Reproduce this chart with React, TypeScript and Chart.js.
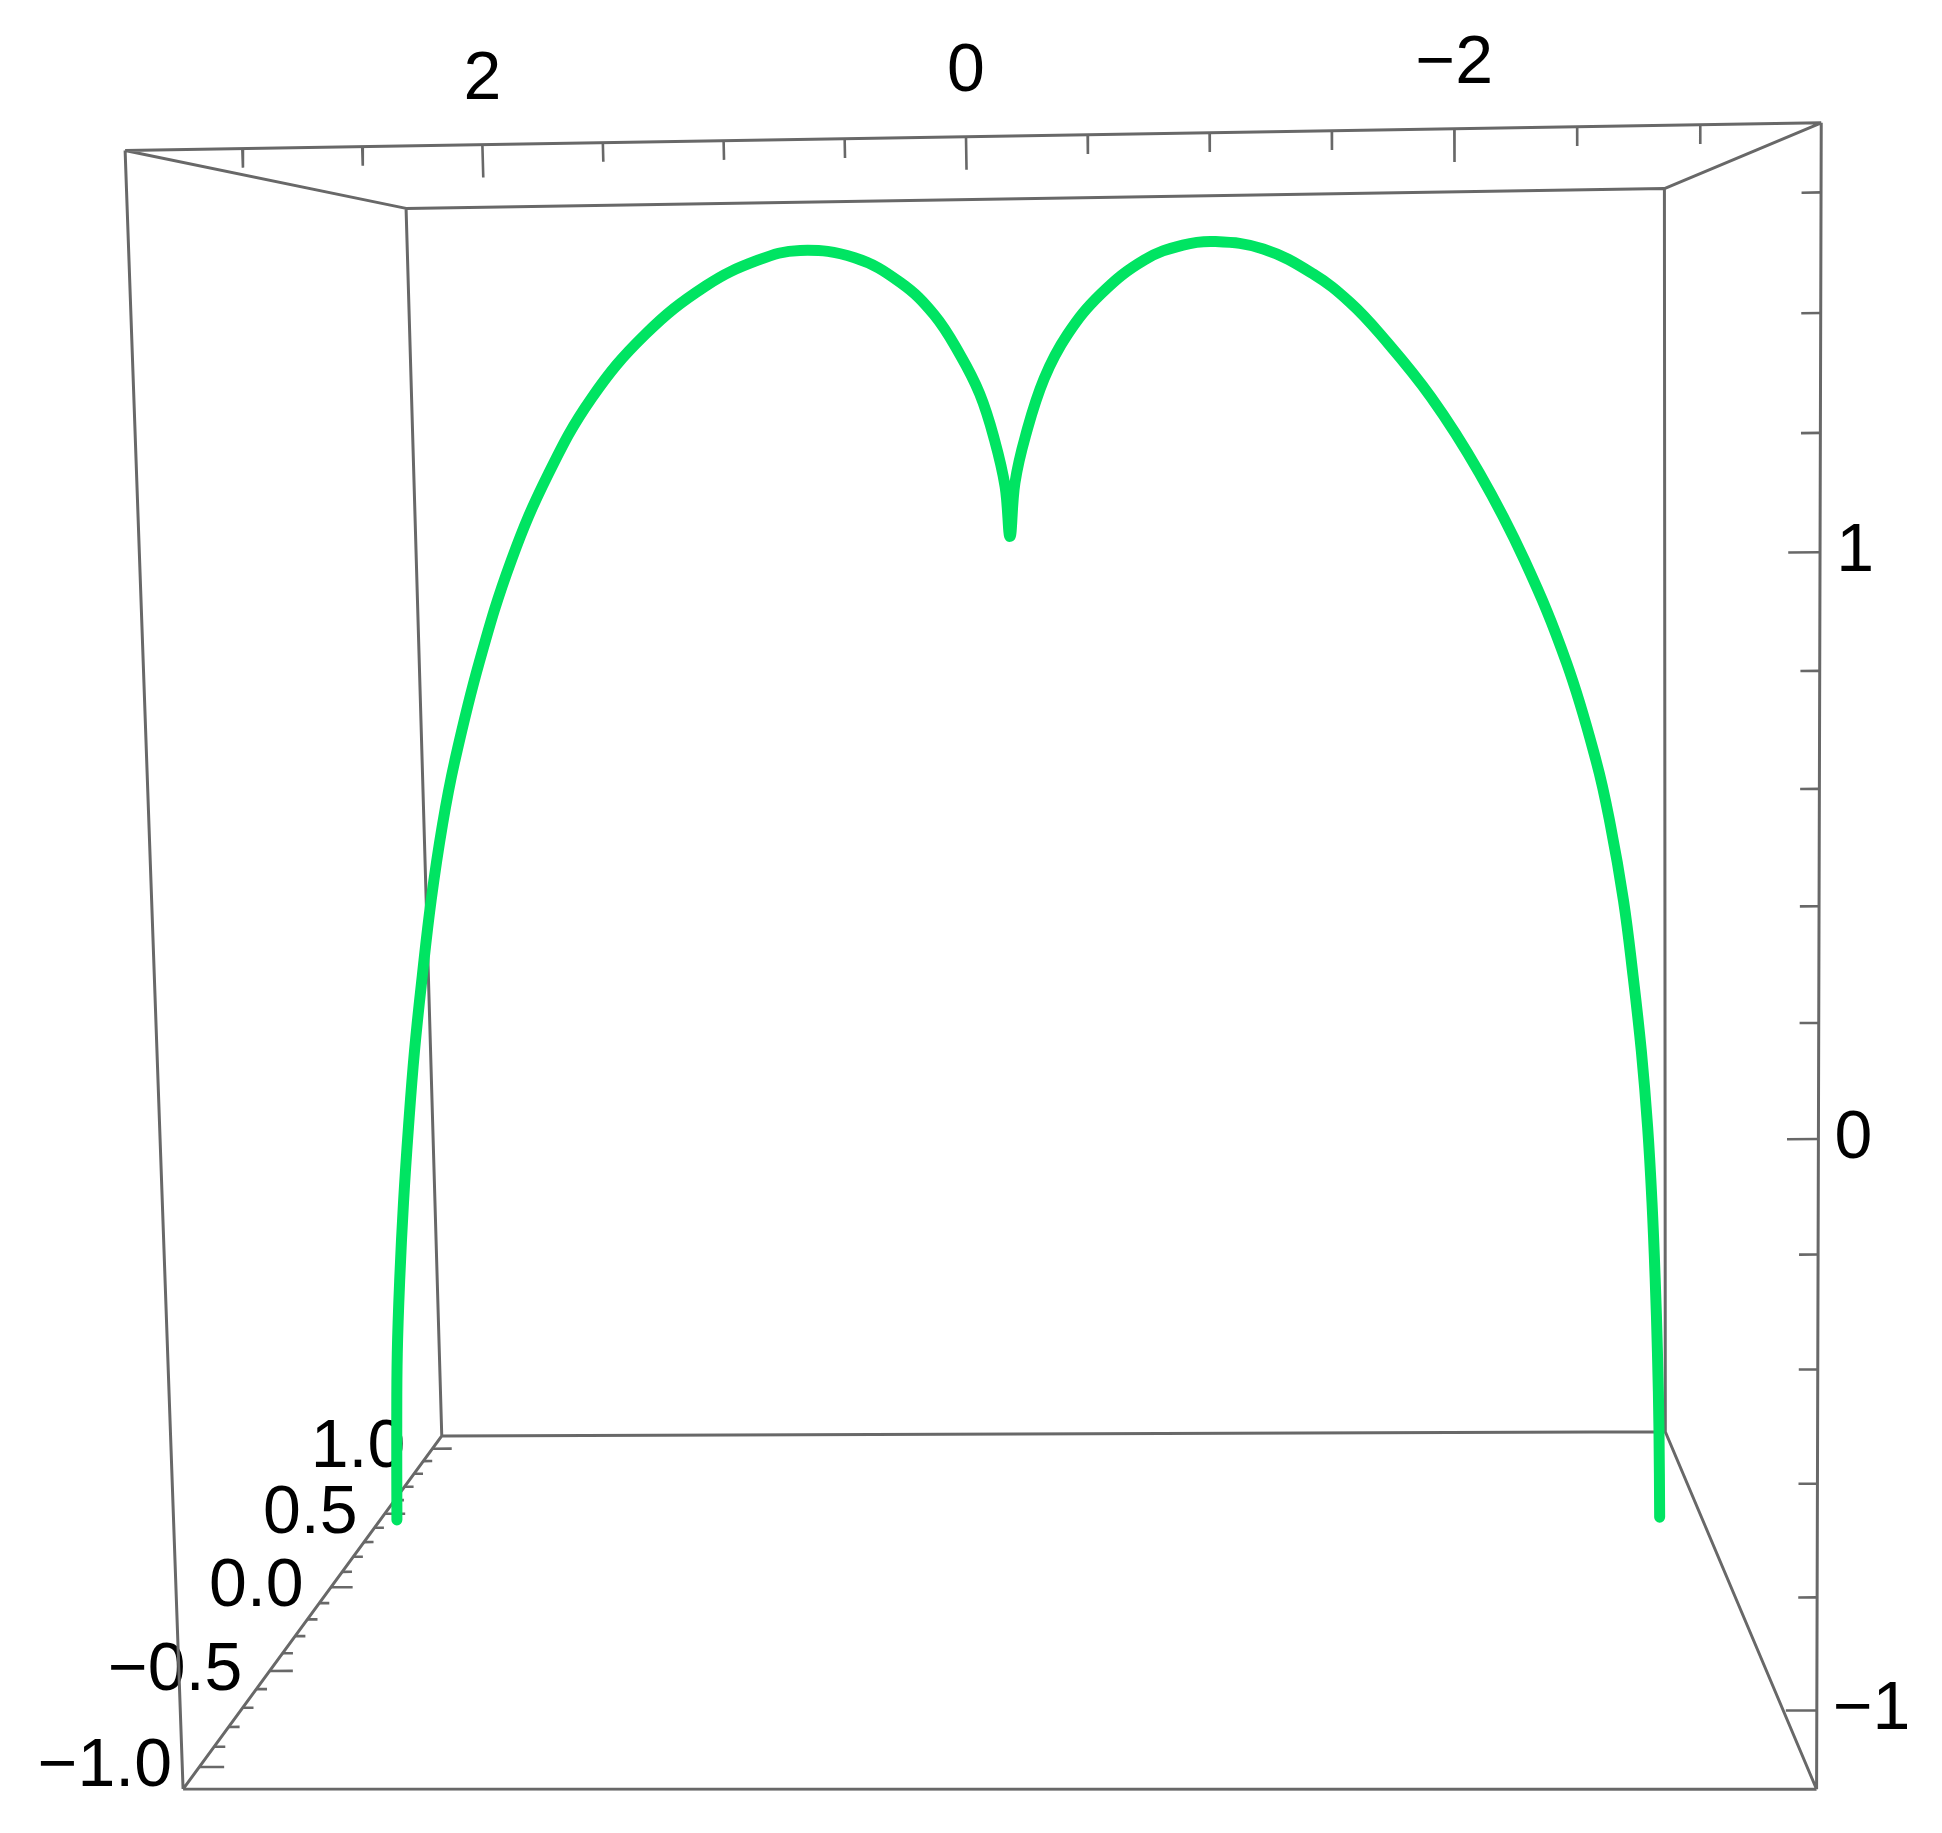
import React, { useEffect, useRef } from "react";
import { Chart, registerables } from "chart.js";

Chart.register(...registerables);

// ---------- canvas / view plane ----------
const CANVAS_W = 1942;
const CANVAS_H = 1833;
const VIEW_W = 1568; // view-plane units used by the chart's x scale
const VIEW_H = 1480; // view-plane units used by the chart's y scale

// ---------- 3D box (plot range) ----------
const X_RANGE = [-3.49, 3.49];
const Y_RANGE = [-1.105, 1.105];
const Z_RANGE = [-1.14, 1.715];

// ---------- axis ticks ----------
const X_TICKS = [-3, -2.5, -2, -1.5, -1, -0.5, 0, 0.5, 1, 1.5, 2, 2.5, 3];
const X_LABELS = [2, 0, -2];
const Y_TICKS = [-1.0, -0.9, -0.8, -0.7, -0.6, -0.5, -0.4, -0.3, -0.2, -0.1, 0.0, 0.1, 0.2, 0.3, 0.4, 0.5, 0.6, 0.7, 0.8, 0.9, 1.0];
const Y_LABELS = [-1.0, -0.5, 0.0, 0.5, 1.0];
const Z_TICKS = [-1.0, -0.8, -0.6, -0.4, -0.2, 0.0, 0.2, 0.4, 0.6, 0.8, 1.0, 1.2, 1.4, 1.6];
const Z_LABELS = [-1, 0, 1];

// ---------- the space curve (x, z, depth y) ----------
const CURVE_X = [
  3.146, 3.133, 3.119, 3.095, 3.065, 3.029, 2.988, 2.938, 2.883, 2.816, 2.747, 2.612, 2.439, 2.245, 2.024, 1.755,
  1.454, 1.198, 0.992,
  0.728, 0.508, 0.348, 0.226, 0.132, 0.064, 0.016, -0.004, -0.032, -0.087, -0.181, -0.298, -0.463, -0.674, -0.861,
  -1.016, -1.248, -1.486, -1.663,
  -1.809, -2.051, -2.281, -2.496, -2.698, -2.841, -2.908, -2.971, -3.017, -3.057, -3.087, -3.108, -3.123, -3.134,
  -3.141, -3.144,
];
const CURVE_Z = [
  -0.999, -0.81, -0.653, -0.496, -0.34, -0.185, -0.03, 0.124, 0.278, 0.431, 0.558, 0.757, 0.962, 1.134, 1.283, 1.407,
  1.501, 1.55, 1.568,
  1.552, 1.502, 1.438, 1.359, 1.28, 1.189, 1.096, 0.997, 1.103, 1.196, 1.308, 1.395, 1.474, 1.539, 1.567,
  1.573, 1.557, 1.507, 1.45,
  1.386, 1.261, 1.111, 0.938, 0.733, 0.535, 0.409, 0.257, 0.105, -0.048, -0.201, -0.355, -0.509, -0.664,
  -0.819, -1.0,
];
const CURVE_DEPTH = 0;

// ---------- perspective camera (world -> view plane) ----------
const CAM_U = [-190.6, 152.3, -18.18, 964.6];
const CAM_V = [3.41, 46.97, -477.6, 979.3];
const CAM_W = [0.00238, 0.1548, -0.01327, 1.1748];

function project(x: number, y: number, z: number) {
  const w = CAM_W[0] * x + CAM_W[1] * y + CAM_W[2] * z + CAM_W[3];
  return {
    x: (CAM_U[0] * x + CAM_U[1] * y + CAM_U[2] * z + CAM_U[3]) / w,
    y: (CAM_V[0] * x + CAM_V[1] * y + CAM_V[2] * z + CAM_V[3]) / w,
  };
}

// ---------- styles ----------
const CURVE_COLOR = "rgb(0, 228, 98)";
const FRAME_COLOR = "#686868";
const FRAME_WIDTH = 3;
const FONT_PX = 68;
const FONT = `${FONT_PX}px "Liberation Sans", Arial, Helvetica, sans-serif`;
const X_TICK_LEN = { major: 0.055, minor: 0.032 }; // along -z
const Z_TICK_LEN = { major: 0.13, minor: 0.079 }; // along +x
const Y_TICK_LEN = { major: 0.11, minor: 0.05 }; // along -x

const GAP = { x: null as any, y: null as any };

function fmt(v: number, digits: number) {
  const s = Math.abs(v) < 1e-9 ? (0).toFixed(digits) : v.toFixed(digits);
  return s.replace("-", "\u2212");
}

function isMajor(list: number[], v: number) {
  return list.some((m) => Math.abs(m - v) < 1e-9);
}

function buildFrame() {
  const xs = X_RANGE, ys = Y_RANGE, zs = Z_RANGE;
  const pts: any[] = [];
  const corners: number[][] = [];
  for (let i = 0; i < 2; i++) for (let j = 0; j < 2; j++) for (let k = 0; k < 2; k++) corners.push([i, j, k]);
  for (let a = 0; a < corners.length; a++) {
    for (let b = a + 1; b < corners.length; b++) {
      const ca = corners[a], cb = corners[b];
      const diff = Math.abs(ca[0] - cb[0]) + Math.abs(ca[1] - cb[1]) + Math.abs(ca[2] - cb[2]);
      if (diff !== 1) continue;
      pts.push(project(xs[ca[0]], ys[ca[1]], zs[ca[2]]));
      pts.push(project(xs[cb[0]], ys[cb[1]], zs[cb[2]]));
      pts.push(GAP);
    }
  }
  return pts;
}

function buildTicks() {
  const pts: any[] = [];
  const y0 = Y_RANGE[0];
  const zTop = Z_RANGE[1];
  X_TICKS.forEach((v) => {
    const len = isMajor(X_LABELS, v) ? X_TICK_LEN.major : X_TICK_LEN.minor;
    pts.push(project(v, y0, zTop), project(v, y0, zTop - len), GAP);
  });
  const xRight = X_RANGE[0];
  Z_TICKS.forEach((v) => {
    const len = isMajor(Z_LABELS, v) ? Z_TICK_LEN.major : Z_TICK_LEN.minor;
    pts.push(project(xRight, y0, v), project(xRight + len, y0, v), GAP);
  });
  const xLeft = X_RANGE[1];
  const zBot = Z_RANGE[0];
  Y_TICKS.forEach((v) => {
    const len = isMajor(Y_LABELS, v) ? Y_TICK_LEN.major : Y_TICK_LEN.minor;
    pts.push(project(xLeft, v, zBot), project(xLeft - len, v, zBot), GAP);
  });
  return pts;
}

const labelPlugin = {
  id: "axisLabels3d",
  beforeDatasetsDraw(chart: any) {
    const { ctx, scales } = chart;
    const sx = scales.x, sy = scales.y;
    const k = chart.width / VIEW_W;
    const px = (p: { x: number; y: number }) => [sx.getPixelForValue(p.x), sy.getPixelForValue(p.y)];
    ctx.save();
    ctx.fillStyle = "#000";
    ctx.font = FONT;
    ctx.textBaseline = "middle";

    ctx.textAlign = "center";
    X_LABELS.forEach((v) => {
      const [u, w] = px(project(v, Y_RANGE[0], Z_RANGE[1]));
      ctx.fillText(fmt(v, 0), u, w - 52 * k);
    });

    ctx.textAlign = "left";
    Z_LABELS.forEach((v) => {
      const [u, w] = px(project(X_RANGE[0], Y_RANGE[0], v));
      ctx.fillText(fmt(v, 0), u + 13 * k, w);
    });

    ctx.textAlign = "right";
    Y_LABELS.forEach((v) => {
      const [u, w] = px(project(X_RANGE[1], v, Z_RANGE[0]));
      ctx.fillText(fmt(v, 1), u - 22 * k, w);
    });
    ctx.restore();
  },
};

export default function App() {
  const canvasRef = useRef<HTMLCanvasElement | null>(null);

  useEffect(() => {
    const canvas = canvasRef.current;
    if (!canvas) return;
    const curve = CURVE_X.map((x, i) => project(x, CURVE_DEPTH, CURVE_Z[i]));
    const chart = new Chart(canvas, {
      type: "scatter",
      data: {
        datasets: [
          {
            label: "curve",
            data: curve,
            showLine: true,
            borderColor: CURVE_COLOR,
            backgroundColor: CURVE_COLOR,
            borderWidth: 11,
            pointRadius: 0,
            tension: 0.4,
            borderCapStyle: "round",
            borderJoinStyle: "round",
            order: 0,
          } as any,
          {
            label: "frame",
            data: buildFrame(),
            showLine: true,
            spanGaps: false,
            borderColor: FRAME_COLOR,
            borderWidth: FRAME_WIDTH,
            pointRadius: 0,
            order: 1,
          } as any,
          {
            label: "ticks",
            data: buildTicks(),
            showLine: true,
            spanGaps: false,
            borderColor: FRAME_COLOR,
            borderWidth: 2.6,
            pointRadius: 0,
            order: 2,
          } as any,
        ],
      },
      options: {
        animation: false,
        responsive: false,
        devicePixelRatio: 1,
        events: [],
        layout: { padding: 0, autoPadding: false },
        plugins: { legend: { display: false }, tooltip: { enabled: false } },
        scales: {
          x: { type: "linear", min: 0, max: VIEW_W, display: false },
          y: { type: "linear", min: 0, max: VIEW_H, reverse: true, display: false },
        },
      } as any,
      plugins: [labelPlugin as any],
    });
    return () => chart.destroy();
  }, []);

  return (
    <div style={{ position: "absolute", left: 0, top: 0, width: CANVAS_W, height: CANVAS_H, background: "#fff" }}>
      <canvas ref={canvasRef} width={CANVAS_W} height={CANVAS_H} style={{ display: "block" }} />
    </div>
  );
}
